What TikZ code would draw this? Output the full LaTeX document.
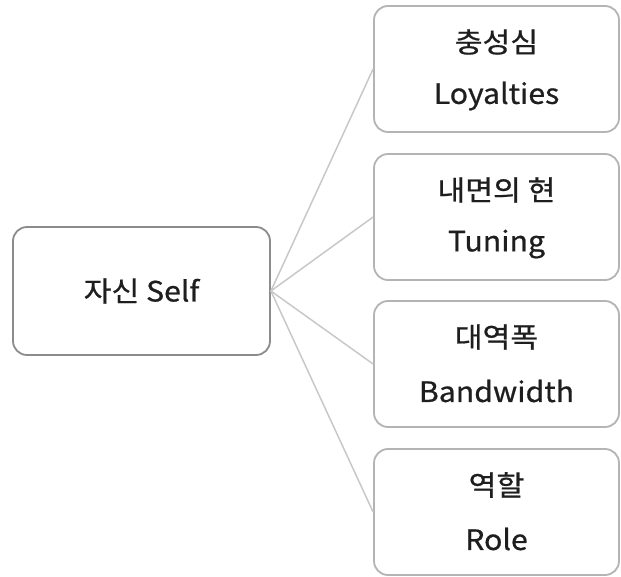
\documentclass[tikz,border=0pt]{standalone}
\usepackage{fontspec}
\setmainfont{Noto Sans CJK KR}
\newfontfamily\labelfont{Noto Sans CJK KR}[FakeBold=0.7, FakeStretch=1.08]
\definecolor{selfline}{HTML}{8C8C8C}
\definecolor{boxline}{HTML}{B4B4B4}
\definecolor{conn}{HTML}{C8C8C8}
\definecolor{ink}{HTML}{1E1E1E}
\begin{document}
\begin{tikzpicture}[x=1pt,y=-1pt,
  selfbox/.style={draw=selfline, line width=1.8pt, rounded corners=14pt, fill=white,
    minimum width=257pt, minimum height=128pt, inner sep=0pt},
  itembox/.style={draw=boxline, line width=1.8pt, rounded corners=14pt, fill=white,
    minimum width=245pt, minimum height=126pt, inner sep=0pt},
  txt/.style={text=ink, font=\labelfont\fontsize{28}{33}\selectfont, inner sep=0pt},
  link/.style={draw=conn, line width=1.5pt}]
\useasboundingbox (0,0) rectangle (621,577);
\node[selfbox] (self) at (141.5,291) {};
\node[txt] (selft) at (self.center) {자신 Self};
\node[itembox] (b1) at (496.5,69) {};
\node[itembox] (b2) at (496.5,217) {};
\node[itembox] (b3) at (496.5,364) {};
\node[itembox] (b4) at (496.5,512) {};
\node[txt] (b1a) at ([yshift=27pt]b1.center) {충성심};
\node[txt] (b1b) at ([yshift=-27pt]b1.center) {Loyalties};
\node[txt] (b2a) at ([yshift=27pt]b2.center) {내면의 현};
\node[txt] (b2b) at ([yshift=-27pt]b2.center) {Tuning};
\node[txt] (b3a) at ([yshift=27pt]b3.center) {대역폭};
\node[txt] (b3b) at ([yshift=-27pt]b3.center) {Bandwidth};
\node[txt] (b4a) at ([yshift=27pt]b4.center) {역할};
\node[txt] (b4b) at ([yshift=-27pt]b4.center) {Role};
\foreach \b in {b1,b2,b3,b4} \draw[link] (self.east) -- (\b.west);
\end{tikzpicture}
\end{document}
